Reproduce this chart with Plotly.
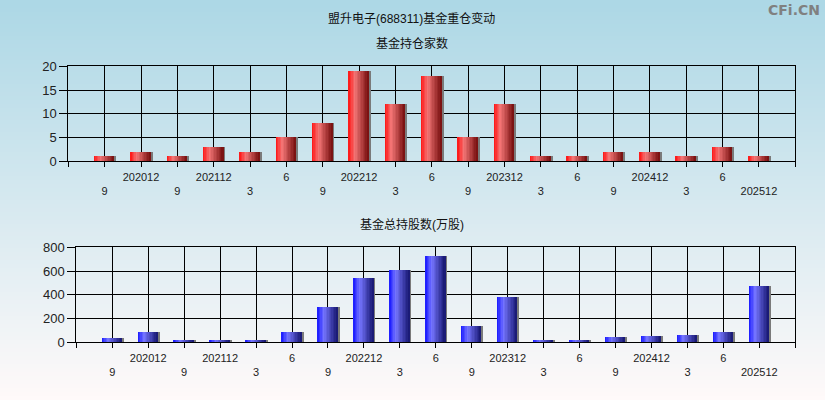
import plotly.graph_objects as go

# ---------------- data ----------------
periods = ["202009", "202012", "202109", "202112", "202203", "202206", "202209",
           "202212", "202303", "202306", "202309", "202312", "202403", "202406",
           "202409", "202412", "202503", "202506", "202512"]
tick_labels = ["9", "202012", "9", "202112", "3", "6", "9", "202212", "3", "6",
               "9", "202312", "3", "6", "9", "202412", "3", "6", "202512"]
fund_counts = [1, 2, 1, 3, 2, 5, 8, 19, 12, 18, 5, 12, 1, 1, 2, 2, 1, 3, 1]
fund_shares = [35, 85, 10, 18, 18, 85, 297, 541, 609, 727, 137, 382, 18, 18,
               39, 47, 56, 81, 474]

title_main = "盟升电子(688311)基金重仓变动"
title_top = "基金持仓家数"
title_bottom = "基金总持股数(万股)"
watermark = "CFi.CN"

# ---------------- styling helpers ----------------
W, H = 825, 400
xpos = list(range(1, len(periods) + 1))
n_slots = len(periods) + 1
upper_idx = [i for i in range(len(periods)) if i % 2 == 1]
lower_idx = [i for i in range(len(periods)) if i % 2 == 0]

FONT = "Liberation Sans, Arial, Noto Sans CJK SC, sans-serif"


def lerp(a, b, t):
    return tuple(a[k] + (b[k] - a[k]) * t for k in range(3))


def grad_color(stops, t):
    for (t0, c0), (t1, c1) in zip(stops, stops[1:]):
        if t0 <= t <= t1:
            c = lerp(c0, c1, (t - t0) / (t1 - t0) if t1 > t0 else 0)
            return "rgb(%d,%d,%d)" % c
    c = stops[-1][1]
    return "rgb(%d,%d,%d)" % c


red_stops = [(0.0, (255, 18, 18)), (0.33, (244, 118, 118)), (1.0, (118, 14, 14))]
blue_stops = [(0.0, (22, 22, 255)), (0.33, (118, 118, 255)), (1.0, (22, 22, 112))]

BAR_W = 0.55
NSTRIP = 14

fig = go.Figure()


def add_bars(values, stops, xa, ya):
    # shadow
    fig.add_trace(go.Bar(x=xpos, y=values, width=BAR_W, offset=-BAR_W / 2 + 0.055,
                         marker=dict(color="#7a7a7a", line=dict(width=0)),
                         xaxis=xa, yaxis=ya, hoverinfo="skip", showlegend=False))
    sw = BAR_W / NSTRIP
    for i in range(NSTRIP):
        t = (i + 0.5) / NSTRIP
        fig.add_trace(go.Bar(x=xpos, y=values, width=sw * 1.08,
                             offset=-BAR_W / 2 + i * sw,
                             marker=dict(color=grad_color(stops, t), line=dict(width=0)),
                             xaxis=xa, yaxis=ya, hoverinfo="skip", showlegend=False))


add_bars(fund_counts, red_stops, "x", "y")
add_bars(fund_shares, blue_stops, "x2", "y2")
# empty traces to register overlay axes for the second label row
fig.add_trace(go.Scatter(x=[], y=[], xaxis="x3", yaxis="y", showlegend=False))
fig.add_trace(go.Scatter(x=[], y=[], xaxis="x4", yaxis="y2", showlegend=False))

# background gradient
top_c = (173, 216, 230)
bot_c = (255, 250, 250)
NB = 100
shapes = []
for i in range(NB):
    c = lerp(top_c, bot_c, i / (NB - 1))
    shapes.append(dict(type="rect", xref="paper", yref="paper", x0=0, x1=1,
                       y0=max(0, 1 - (i + 1) / NB - 0.001), y1=1 - i / NB,
                       fillcolor="rgb(%d,%d,%d)" % c, line=dict(width=0),
                       layer="below"))

dom_top_x = [68.3 / W, 795.3 / W]
dom_top_y = [(H - 161.3) / H, (H - 66.3) / H]
dom_bot_x = [76.3 / W, 795.3 / W]
dom_bot_y = [(H - 342.3) / H, (H - 247.3) / H]

main_ticktext = [""] + [tick_labels[i] if i in upper_idx else "" for i in range(len(periods))] + [""]
main_tickvals = list(range(0, n_slots + 1))

xcommon = dict(range=[0, n_slots], showgrid=True, gridcolor="black", gridwidth=1,
               showline=True, linecolor="black", linewidth=1, mirror=True,
               ticks="outside", ticklen=5, tickcolor="black", tickwidth=1,
               tickvals=main_tickvals, ticktext=main_ticktext,
               tickfont=dict(family=FONT, size=11, color="#222"),
               zeroline=False, fixedrange=True)
xover = dict(range=[0, n_slots], showgrid=False, showline=False, ticks="",
             tickvals=[xpos[i] for i in lower_idx],
             ticktext=[tick_labels[i] for i in lower_idx],
             tickfont=dict(family=FONT, size=11, color="#222"),
             ticklabelstandoff=22, zeroline=False, side="bottom", fixedrange=True)
ycommon = dict(showgrid=True, gridcolor="black", gridwidth=1, showline=True,
               linecolor="black", linewidth=1, mirror=True, ticks="outside",
               ticklen=8, tickcolor="black", zeroline=False,
               tickfont=dict(family=FONT, size=13, color="#222"), fixedrange=True)

fig.update_layout(
    width=W, height=H,
    margin=dict(l=0, r=0, t=0, b=0, pad=0, autoexpand=False),
    paper_bgcolor="rgb(214,233,240)",
    plot_bgcolor="rgba(0,0,0,0)",
    barmode="overlay",
    bargap=0,
    showlegend=False,
    shapes=shapes,
    xaxis=dict(domain=dom_top_x, anchor="y", **xcommon),
    xaxis3=dict(overlaying="x", anchor="y", **xover),
    yaxis=dict(domain=dom_top_y, anchor="x", range=[0, 20], dtick=5, **ycommon),
    xaxis2=dict(domain=dom_bot_x, anchor="y2", **xcommon),
    xaxis4=dict(overlaying="x2", anchor="y2", **xover),
    yaxis2=dict(domain=dom_bot_y, anchor="x2", range=[0, 800], dtick=200, **ycommon),
    annotations=[
        dict(text=title_main, x=411.5 / W, y=1 - 18 / H, xref="paper", yref="paper",
             showarrow=False, xanchor="center", yanchor="middle",
             font=dict(family=FONT, size=12, color="#111")),
        dict(text=title_top, x=411.5 / W, y=1 - 43 / H, xref="paper", yref="paper",
             showarrow=False, xanchor="center", yanchor="middle",
             font=dict(family=FONT, size=12, color="#111")),
        dict(text=title_bottom, x=411.5 / W, y=1 - 224.3 / H, xref="paper", yref="paper",
             showarrow=False, xanchor="center", yanchor="middle",
             font=dict(family=FONT, size=12, color="#111")),
        dict(text="<b>" + watermark + "</b>", x=822 / W, y=1 - 10 / H, xref="paper",
             yref="paper", showarrow=False, xanchor="right", yanchor="middle",
             font=dict(family="DejaVu Sans, sans-serif", size=14, color="#808080")),
    ],
)

fig.write_html("out.html",
               config={"displayModeBar": False, "responsive": False},
               post_script="document.body.style.margin='0';document.body.style.overflow='hidden';")
